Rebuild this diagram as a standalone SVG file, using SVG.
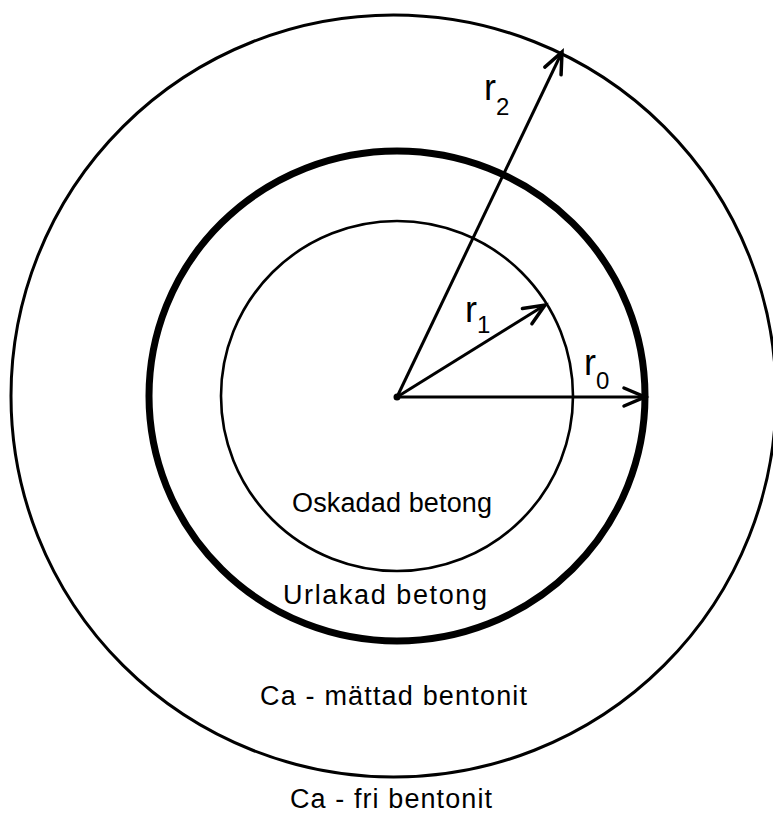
<svg xmlns="http://www.w3.org/2000/svg" width="773" height="816" viewBox="0 0 773 816">
  <defs>
    <style>
      .ring { fill: none; stroke: #000; }
      .thin { stroke-width: 3; }
      .thick { stroke-width: 7; }
      .inner { stroke-width: 2.6; }
      .arrow { stroke: #000; stroke-width: 3; fill: none; marker-end: url(#head); }
      .lbl { font-family: "Liberation Sans", "DejaVu Sans", sans-serif; fill: #000; }
      .zone { font-size: 27px; }
      .r { font-size: 36px; }
      .sub { font-size: 24px; }
    </style>
    <marker id="head" markerUnits="userSpaceOnUse" viewBox="-24 -12 28 24" refX="0" refY="0" markerWidth="28" markerHeight="24" orient="auto" overflow="visible">
      <path d="M -21 -9 L 0 0 L -21 9" fill="none" stroke="#000" stroke-width="3.5" stroke-linecap="round" stroke-linejoin="miter"/>
    </marker>
  </defs>
  <rect width="773" height="816" fill="#fff"/>

  <g id="ca-fri-bentonit">
    <ellipse class="ring thin" cx="393.5" cy="396" rx="382.5" ry="381"/>
    <text class="lbl zone" x="290" y="808" textLength="202" lengthAdjust="spacing">Ca - fri bentonit</text>
  </g>

  <g id="ca-mattad-bentonit">
    <ellipse class="ring thick" cx="397" cy="396" rx="248" ry="245"/>
    <text class="lbl zone" x="260" y="705" textLength="267" lengthAdjust="spacing">Ca - mättad bentonit</text>
  </g>

  <g id="urlakad-betong">
    <text class="lbl zone" x="283" y="604" textLength="204" lengthAdjust="spacing">Urlakad betong</text>
  </g>

  <g id="oskadad-betong">
    <ellipse class="ring inner" cx="397" cy="396" rx="176" ry="175"/>
    <text class="lbl zone" x="292" y="512" font-size="26" textLength="200" lengthAdjust="spacing">Oskadad betong</text>
  </g>

  <g id="center">
    <circle cx="397" cy="397" r="3.5" fill="#000"/>
  </g>

  <g id="connectors">
    <line class="arrow" x1="397" y1="397" x2="562" y2="52"/>
    <line class="arrow" x1="397" y1="397" x2="545" y2="305"/>
    <line class="arrow" x1="397" y1="397" x2="645" y2="397"/>
  </g>

  <g id="radius-labels">
    <text class="lbl r" x="484" y="100">r<tspan class="sub" dy="15">2</tspan></text>
    <text class="lbl r" x="465" y="322">r<tspan class="sub" dy="11">1</tspan></text>
    <text class="lbl r" x="584" y="375">r<tspan class="sub" dy="14">0</tspan></text>
  </g>
</svg>
